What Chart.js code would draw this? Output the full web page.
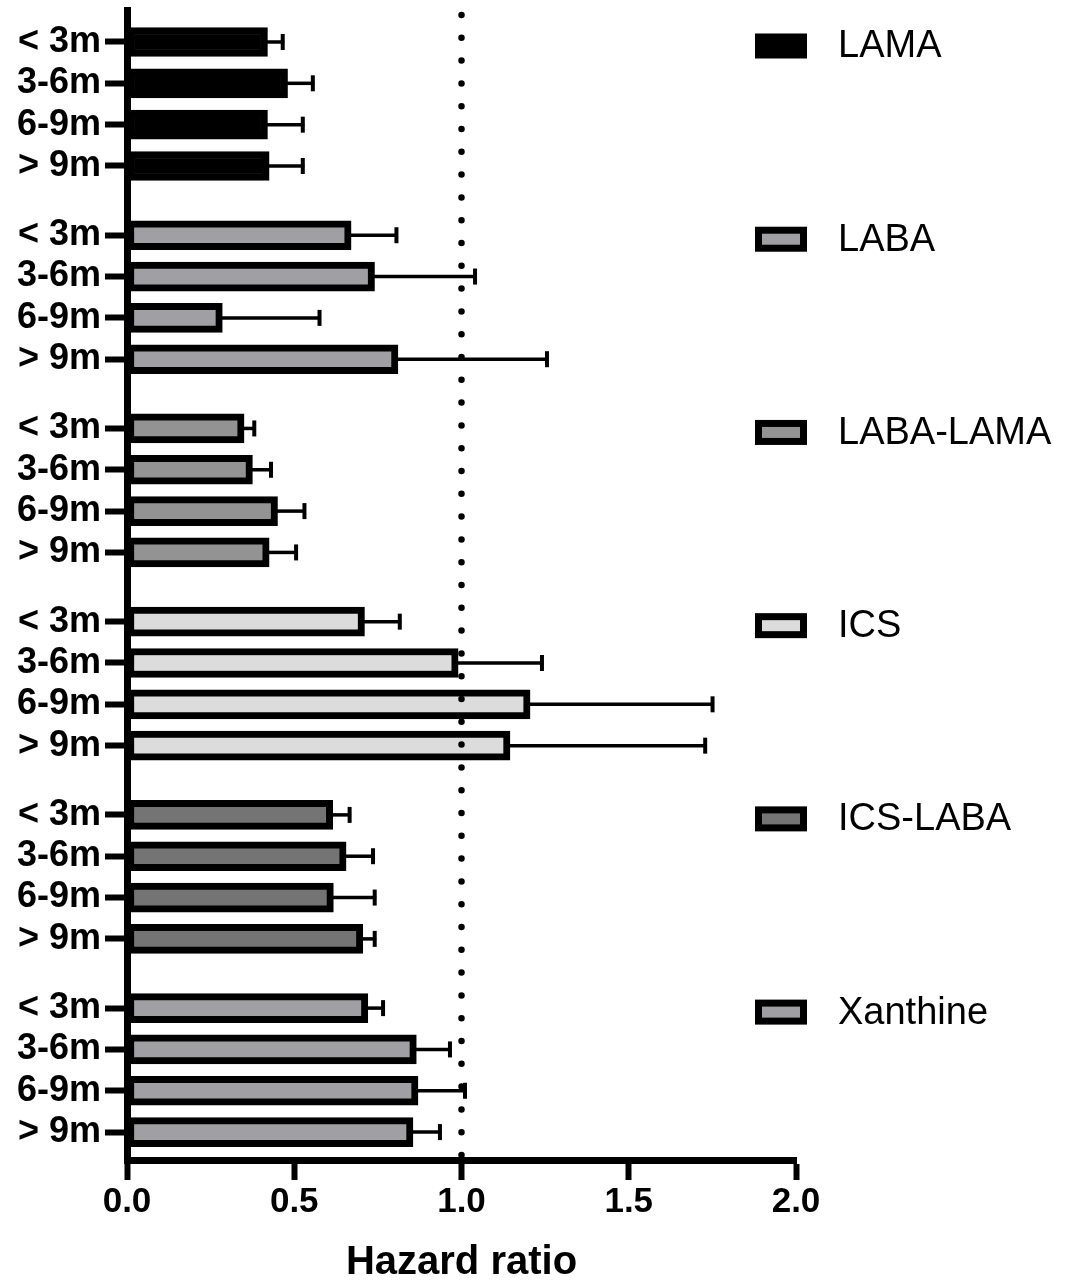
<!DOCTYPE html>
<html>
<head>
<meta charset="utf-8">
<script src="https://cdn.jsdelivr.net/npm/chart.js@4.4.1/dist/chart.umd.min.js"></script>
<style>
  html, body { margin: 0; padding: 0; background: #fff; }
  canvas { display: block; }
</style>
</head>
<body>
<canvas id="hr" width="1077" height="1287"></canvas>
<script>
// categories
const drugClasses = ['LAMA', 'LABA', 'LABA-LAMA', 'ICS', 'ICS-LABA', 'Xanthine'];
const periods = ['< 3m', '3-6m', '6-9m', '> 9m'];
const xTicks = [0, 0.5, 1, 1.5, 2];

// hazard ratio and upper end of the error bar, per class, in period order
const lamaHR = [0.42, 0.48, 0.42, 0.425];
const lamaUpper = [0.47, 0.56, 0.53, 0.53];
const labaHR = [0.67, 0.74, 0.285, 0.81];
const labaUpper = [0.81, 1.045, 0.58, 1.26];
const labaLamaHR = [0.35, 0.375, 0.45, 0.425];
const labaLamaUpper = [0.385, 0.435, 0.535, 0.51];
const icsHR = [0.71, 0.99, 1.205, 1.145];
const icsUpper = [0.82, 1.245, 1.755, 1.733];
const icsLabaHR = [0.615, 0.655, 0.617, 0.705];
const icsLabaUpper = [0.67, 0.74, 0.745, 0.745];
const xanthineHR = [0.72, 0.865, 0.87, 0.855];
const xanthineUpper = [0.77, 0.97, 1.015, 0.94];

const hrs = [lamaHR, labaHR, labaLamaHR, icsHR, icsLabaHR, xanthineHR];
const uppers = [lamaUpper, labaUpper, labaLamaUpper, icsUpper, icsLabaUpper, xanthineUpper];
const fills = ['#000000', '#a0a0a4', '#939393', '#dcdcdc', '#747474', '#a0a0a4'];

// slot spacing: bars one unit apart, groups separated by a gap
const GROUP_STEP = 4.675;
const slot = (g, i) => g * GROUP_STEP + i;
const positions = [];
drugClasses.forEach((c, g) => periods.forEach((p, i) => positions.push(slot(g, i))));

const datasets = drugClasses.map((name, g) => ({
    label: name,
    data: hrs[g].map((v, i) => ({ x: v, y: slot(g, i) })),
    upper: uppers[g],
    backgroundColor: fills[g],
    borderColor: '#000',
    borderWidth: 7,
    borderSkipped: false,
    barThickness: 29,
    grouped: false
}));

const errorBars = {
    id: 'errorBars',
    afterDatasetsDraw(chart) {
        const ctx = chart.ctx;
        const xs = chart.scales.x;
        chart.data.datasets.forEach((ds, di) => {
            chart.getDatasetMeta(di).data.forEach((bar, i) => {
                const x0 = bar.x - 3;
                const x1 = xs.getPixelForValue(ds.upper[i]);
                ctx.save();
                ctx.strokeStyle = '#000';
                ctx.lineWidth = 3.5;
                ctx.beginPath();
                ctx.moveTo(x0, bar.y);
                ctx.lineTo(x1, bar.y);
                ctx.stroke();
                ctx.lineWidth = 4;
                ctx.beginPath();
                ctx.moveTo(x1 - 1.5, bar.y - 8);
                ctx.lineTo(x1 - 1.5, bar.y + 8);
                ctx.stroke();
                ctx.restore();
            });
        });
    }
};

const refLine = {
    id: 'refLine',
    afterDatasetsDraw(chart) {
        const ctx = chart.ctx;
        const x = chart.scales.x.getPixelForValue(1);
        const area = chart.chartArea;
        ctx.save();
        ctx.strokeStyle = '#000';
        ctx.lineWidth = 6.5;
        ctx.lineCap = 'round';
        ctx.setLineDash([0, 22.8]);
        ctx.beginPath();
        ctx.moveTo(x, area.top + 5);
        ctx.lineTo(x, area.bottom - 4);
        ctx.stroke();
        ctx.restore();
    }
};

const sideLegend = {
    id: 'sideLegend',
    afterDraw(chart) {
        const ctx = chart.ctx;
        const ys = chart.scales.y;
        ctx.save();
        ctx.font = '38px "Liberation Sans", Arial, sans-serif';
        ctx.textBaseline = 'middle';
        drugClasses.forEach((name, g) => {
            const y = ys.getPixelForValue(slot(g, 0)) + 4;
            ctx.fillStyle = '#000';
            ctx.fillRect(755, y - 12.5, 52, 25);
            ctx.fillStyle = fills[g];
            ctx.fillRect(762, y - 5.5, 38, 11);
            ctx.fillStyle = '#000';
            ctx.fillText(name, 838, y + 1);
        });
        ctx.restore();
    }
};

const ctx = document.getElementById('hr').getContext('2d');
new Chart(ctx, {
    type: 'bar',
    data: { datasets: datasets },
    options: {
        indexAxis: 'y',
        responsive: false,
        animation: false,
        layout: { padding: { top: 10, right: 281, bottom: 0, left: 0 } },
        plugins: {
            legend: { display: false },
            tooltip: { enabled: false }
        },
        scales: {
            x: {
                type: 'linear',
                min: 0,
                max: 2,
                afterBuildTicks: (s) => { s.ticks = xTicks.map(v => ({ value: v })); },
                afterFit: (s) => { s.height = 127; },
                border: { display: true, color: '#000', width: 7 },
                grid: { drawOnChartArea: false, color: '#000', tickLength: 20, tickWidth: 6 },
                ticks: {
                    color: '#000',
                    padding: 1,
                    maxRotation: 0,
                    font: { family: '"Liberation Sans", Arial, sans-serif', size: 35, weight: 'bold' },
                    callback: (v) => Number(v).toFixed(1)
                },
                title: {
                    display: true,
                    text: 'Hazard ratio',
                    color: '#000',
                    padding: { top: 0, bottom: 0 },
                    font: { family: '"Liberation Sans", Arial, sans-serif', size: 40, weight: 'bold' }
                }
            },
            y: {
                type: 'linear',
                reverse: true,
                offset: false,
                min: -0.774,
                max: 27.05,
                afterBuildTicks: (s) => { s.ticks = positions.map(v => ({ value: v })); },
                afterFit: (s) => { s.width = 127; s.paddingTop = 0; s.paddingBottom = 0; },
                border: { display: true, color: '#000', width: 7 },
                grid: { offset: false, drawOnChartArea: false, color: '#000', tickLength: 22, tickWidth: 6 },
                ticks: {
                    color: '#000',
                    padding: 4,
                    autoSkip: false,
                    font: { family: '"Liberation Sans", Arial, sans-serif', size: 36, weight: 'bold' },
                    callback: (v, i) => periods[i % periods.length]
                }
            }
        }
    },
    plugins: [errorBars, refLine, sideLegend]
});
</script>
</body>
</html>
